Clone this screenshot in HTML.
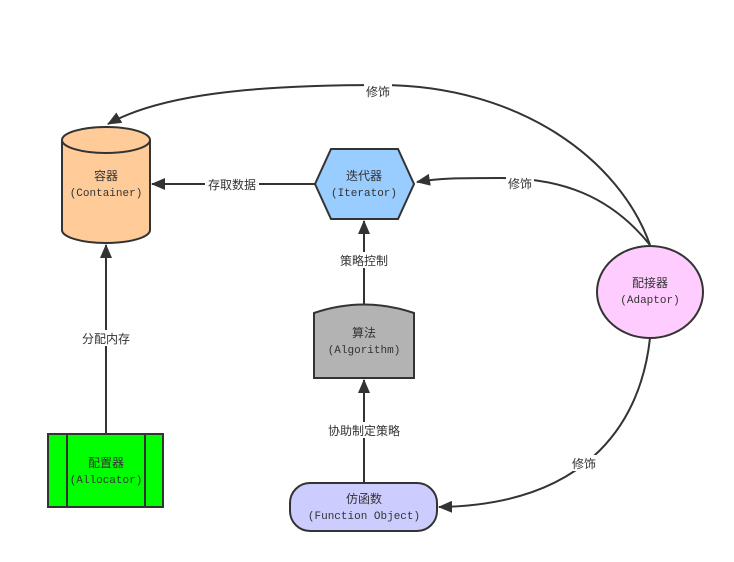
<!DOCTYPE html>
<html><head><meta charset="utf-8"><style>
html,body{margin:0;padding:0;background:#fff;}
svg{display:block;}
text{font-family:"Liberation Sans","Noto Sans CJK SC",sans-serif;font-size:12px;fill:#333;text-anchor:middle;}
.m{font-family:"Liberation Mono","Noto Sans CJK SC",monospace;font-size:11px;}
.lb{fill:#fff;}
</style></head><body>
<svg width="734" height="562" viewBox="0 0 734 562" xmlns="http://www.w3.org/2000/svg">
<defs><marker id="a" markerWidth="10" markerHeight="10" refX="9" refY="5" orient="auto" markerUnits="userSpaceOnUse"><path d="M0,0 L10,5 L0,10 Z" fill="#333"/></marker>
<marker id="b" markerWidth="14" markerHeight="12" refX="13" refY="6" orient="auto" markerUnits="userSpaceOnUse"><path d="M0,0 L14,6 L0,12 Z" fill="#333"/></marker></defs>
<g fill="none" stroke="#333" stroke-width="2">
<path d="M650,245 C620,160 520,85 380,85 C250,85 160,95 108,124" marker-end="url(#b)"/>
<path d="M650,245 C610,195 560,178 500,178 C460,178 440,178 417,182" marker-end="url(#b)"/>
<path d="M650,338 C640,430 580,505 439,507" marker-end="url(#b)"/>
<path d="M315,184 L152,184" marker-end="url(#b)"/>
<path d="M364,304 L364,221" marker-end="url(#b)"/>
<path d="M364,483 L364,380" marker-end="url(#b)"/>
<path d="M106,434 L106,245" marker-end="url(#b)"/>
</g>
<g stroke="#333" stroke-width="2">
<path d="M62,140 L62,230 A44,13 0 0 0 150,230 L150,140 A44,13 0 0 0 62,140 Z" fill="#ffcc99"/>
<path d="M62,140 A44,13 0 0 0 150,140" fill="none"/>
<polygon points="315,184 331,149 398,149 414,184 398,219 331,219" fill="#99ccff"/>
<path d="M314,313 Q364,296 414,313 L414,378 L314,378 Z" fill="#b3b3b3"/>
<rect x="290" y="483" width="147" height="48" rx="20" fill="#ccccff"/>
<rect x="48" y="434" width="115" height="73" fill="#00ff00"/>
<line x1="67" y1="434" x2="67" y2="507"/><line x1="145" y1="434" x2="145" y2="507"/>
<ellipse cx="650" cy="292" rx="53" ry="46" fill="#ffccff"/>
</g>
<g>
<rect class="lb" x="364" y="83" width="28" height="16"/><text x="378" y="96">修饰</text>
<rect class="lb" x="506" y="175" width="28" height="16"/><text x="520" y="188">修饰</text>
<rect class="lb" x="570" y="455" width="28" height="16"/><text x="584" y="468">修饰</text>
<rect class="lb" x="205" y="176" width="54" height="16"/><text x="232" y="189">存取数据</text>
<rect class="lb" x="337" y="252" width="54" height="16"/><text x="364" y="265">策略控制</text>
<rect class="lb" x="325" y="422" width="78" height="16"/><text x="364" y="435">协助制定策略</text>
<rect class="lb" x="79" y="330" width="54" height="16"/><text x="106" y="343">分配内存</text>
<text x="106" y="180">容器</text><text class="m" x="106" y="196">(Container)</text>
<text x="364" y="180">迭代器</text><text class="m" x="364" y="196">(Iterator)</text>
<text x="364" y="337">算法</text><text class="m" x="364" y="353">(Algorithm)</text>
<text x="364" y="503">仿函数</text><text class="m" x="364" y="519">(Function Object)</text>
<text x="106" y="467">配置器</text><text class="m" x="106" y="483">(Allocator)</text>
<text x="650" y="287">配接器</text><text class="m" x="650" y="303">(Adaptor)</text>
</g>
</svg>
</body></html>
